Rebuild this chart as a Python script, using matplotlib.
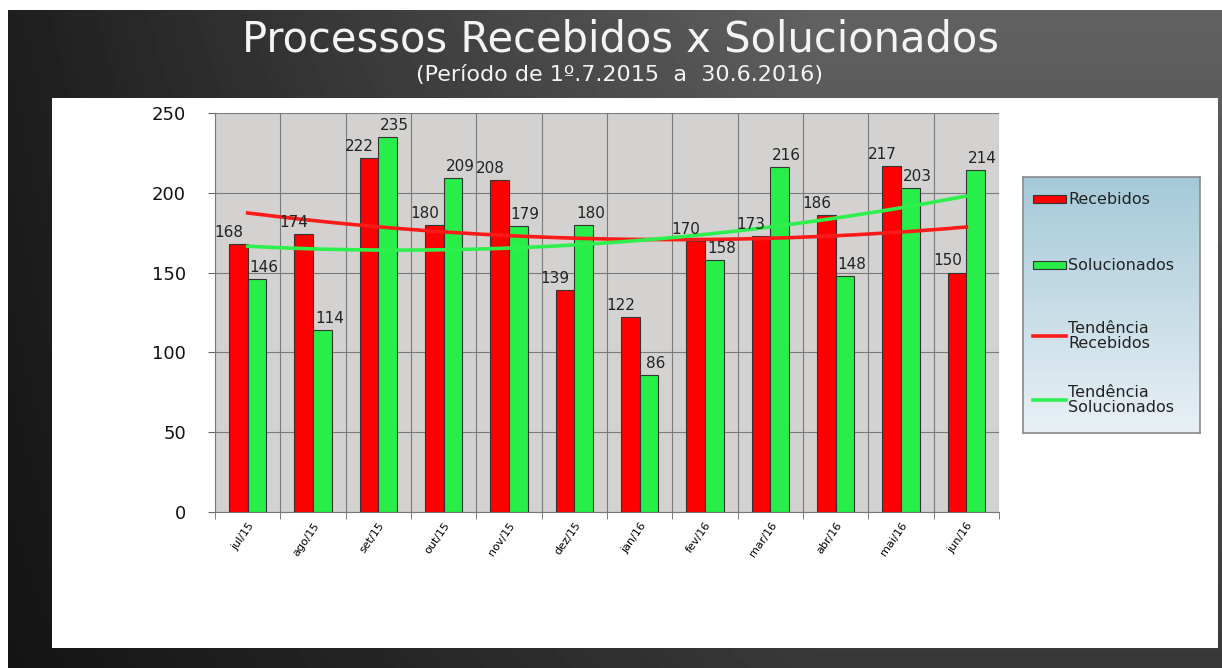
import numpy as np
import matplotlib
matplotlib.use("Agg")
import matplotlib.pyplot as plt
from matplotlib.patches import Rectangle

months = ["jul/15", "ago/15", "set/15", "out/15", "nov/15", "dez/15",
          "jan/16", "fev/16", "mar/16", "abr/16", "mai/16", "jun/16"]
recebidos = [168, 174, 222, 180, 208, 139, 122, 170, 173, 186, 217, 150]
solucionados = [146, 114, 235, 209, 179, 180, 86, 158, 216, 148, 203, 214]
y_ticks = [0, 50, 100, 150, 200, 250]
legend_labels = ["Recebidos", "Solucionados", "Tendência\nRecebidos", "Tendência\nSolucionados"]

title = "Processos Recebidos x Solucionados"
subtitle = "(Período de 1º.7.2015  a  30.6.2016)"

RED = "#ff0000"
GREEN = "#27ee48"
TRED = "#ff1a1a"
TGREEN = "#2ef04d"
W, H = 1222, 668

fig = plt.figure(figsize=(W / 100, H / 100), dpi=100)
fig.patch.set_facecolor("white")

def px(x0, y0, x1, y1):
    return [x0 / W, 1 - y1 / H, (x1 - x0) / W, (y1 - y0) / H]

# dark slide background
bg = fig.add_axes(px(8, 10, W, H), zorder=0)
gx = np.linspace(0, 1, 300)
gy = np.linspace(0, 1, 150)
GX, GY = np.meshgrid(gx, gy)
val = 0.08 + 0.26 * np.clip(GX * 1.5, 0, 1) * (0.55 + 0.45 * GY) + 0.04 * GY
bg.imshow(val, cmap="gray", vmin=0, vmax=1, aspect="auto", extent=[0, 1, 0, 1], origin="lower")
bg.set_axis_off()

# white panel
panel = fig.add_axes(px(52, 98, 1218, 648), zorder=1)
panel.set_facecolor("white")
panel.set_xticks([]); panel.set_yticks([])
for s in panel.spines.values():
    s.set_visible(False)

fig.text(620 / W, 1 - 39 / H, title, color="#f4f4f4", fontsize=30,
         ha="center", va="center", zorder=5)
fig.text(620 / W, 1 - 75 / H, subtitle, color="#f4f4f4", fontsize=16,
         ha="center", va="center", zorder=5)

# main plot
ax = fig.add_axes(px(215, 113, 999, 512), zorder=2)
ax.set_facecolor("#d4d2d0")
x = np.arange(len(months))
bw = 0.285
ax.bar(x - bw / 2, recebidos, bw, color=RED, edgecolor="#333333", linewidth=0.8, zorder=3)
ax.bar(x + bw / 2, solucionados, bw, color=GREEN, edgecolor="#333333", linewidth=0.8, zorder=3)

# polynomial (order 2) trend lines
xf = np.linspace(0, len(months) - 1, 200)
pr = np.polyfit(x, recebidos, 2)
ps = np.polyfit(x, solucionados, 2)
ax.plot(xf, np.polyval(pr, xf), color=TRED, lw=2.6, zorder=4)
ax.plot(xf, np.polyval(ps, xf), color=TGREEN, lw=2.6, zorder=4)

for xi, v in zip(x, recebidos):
    ax.annotate(str(v), (xi - bw / 2, v), xytext=(-7, 3), textcoords="offset points",
                ha="center", va="bottom", fontsize=11, color="#222222", zorder=5)
for xi, v in zip(x, solucionados):
    ax.annotate(str(v), (xi + bw / 2, v), xytext=(5, 3), textcoords="offset points",
                ha="center", va="bottom", fontsize=11, color="#222222", zorder=5)

ax.set_xlim(-0.5, len(months) - 0.5)
ax.set_ylim(0, 250)
ax.set_yticks(y_ticks)
ax.set_yticklabels([str(t) for t in y_ticks], fontsize=13, color="#111111")
ax.set_xticks(x)
ax.set_xticklabels(months, rotation=55, ha="right", rotation_mode="anchor", fontsize=8)
ax.set_xticks(np.arange(-0.5, len(months), 1), minor=True)
ax.tick_params(axis="x", which="major", length=0, pad=6)
ax.tick_params(axis="x", which="minor", length=5, color="#666666")
ax.tick_params(axis="y", length=5, color="#666666", pad=16)
ax.grid(True, axis="y", which="major", color="#7a7a7a", lw=0.8, zorder=1)
ax.grid(True, axis="x", which="minor", color="#7a7a7a", lw=0.8, zorder=1)
ax.set_axisbelow(True)
for s in ["top", "right"]:
    ax.spines[s].set_visible(False)
ax.spines["left"].set_color("#777777")
ax.spines["bottom"].set_color("#777777")

# legend panel (drawn manually)
lg = fig.add_axes(px(1023, 177, 1200, 433), zorder=3)
grad = np.linspace(0, 1, 100).reshape(-1, 1)
c_top = np.array([0.65, 0.79, 0.85])
c_bot = np.array([0.91, 0.94, 0.96])
img = c_bot[None, None, :] * (1 - grad[:, :, None]) + c_top[None, None, :] * grad[:, :, None]
lg.imshow(img, aspect="auto", extent=[0, 1, 0, 1], origin="lower")
lg.set_xlim(0, 1); lg.set_ylim(0, 1)
lg.set_xticks([]); lg.set_yticks([])
for s in lg.spines.values():
    s.set_color("#8a8a8a"); s.set_linewidth(1.2)

entry_y = [0.914, 0.656, 0.379, 0.129]
hx0, hx1 = 0.056, 0.243
kinds = ["patch", "patch", "line", "line"]
colors = [RED, GREEN, TRED, TGREEN]
for yy, kind, col, lab in zip(entry_y, kinds, colors, legend_labels):
    if kind == "patch":
        lg.add_patch(Rectangle((hx0, yy - 0.014), hx1 - hx0, 0.028, facecolor=col,
                               edgecolor="#333333", lw=0.8, zorder=3))
    else:
        lg.plot([hx0, hx1], [yy, yy], color=col, lw=2.6, zorder=3)
    lg.text(hx1 + 0.012, yy, lab, fontsize=11.5, color="#222222", ha="left",
            va="center", linespacing=0.95, zorder=3)

fig.savefig("out.png", dpi=100)
